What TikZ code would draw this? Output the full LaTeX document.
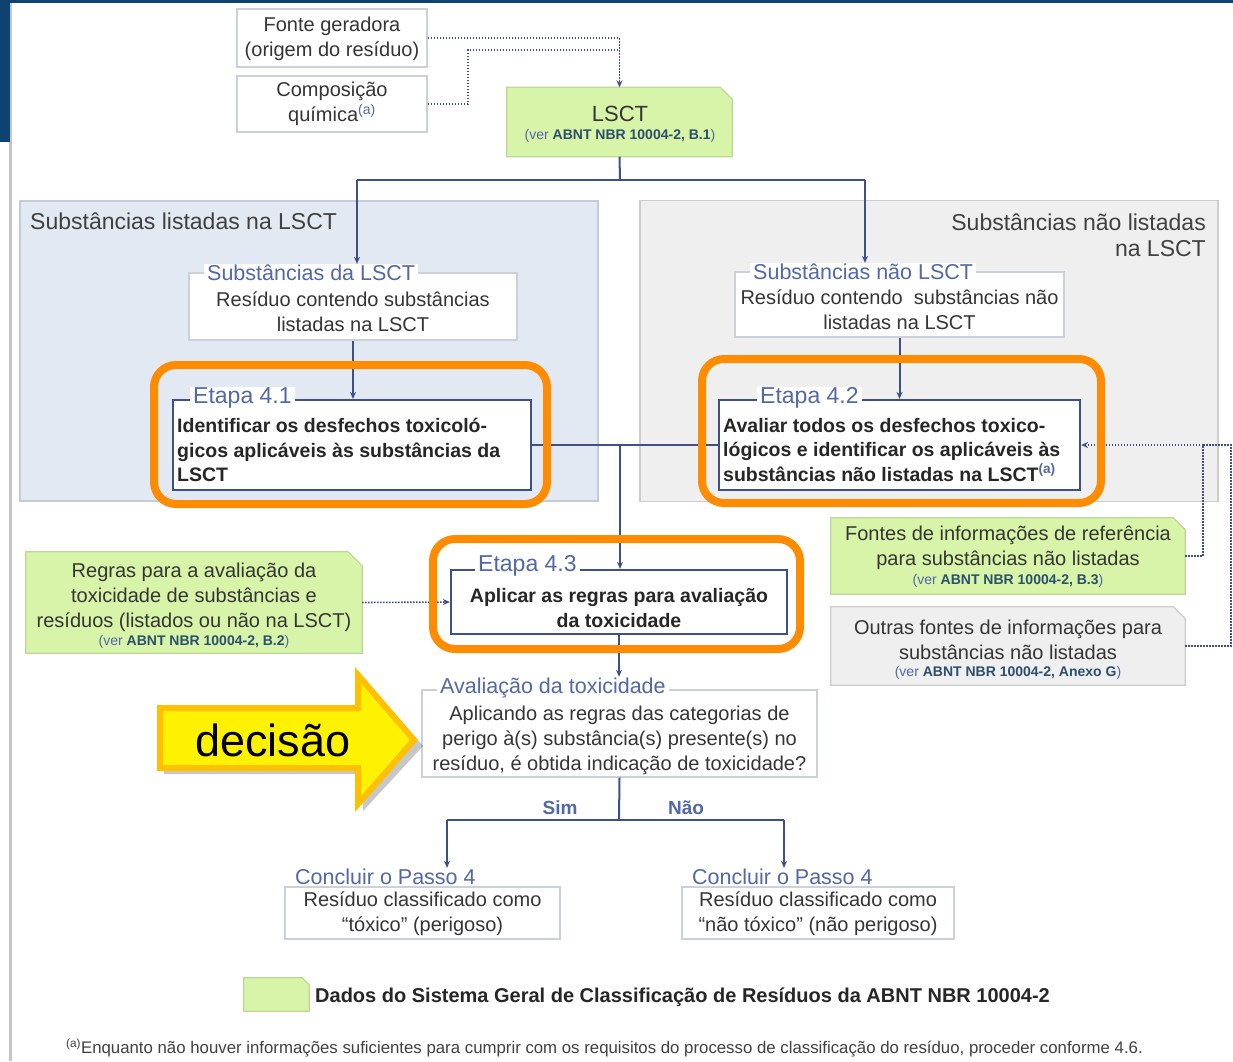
\documentclass[tikz,border=0pt]{standalone}
\usepackage{fontspec}
\setmainfont{Liberation Sans}
\usetikzlibrary{arrows.meta,calc}

\definecolor{navyline}{HTML}{3E4F8C}
\definecolor{ttlblue}{HTML}{5268A8}
\definecolor{boxedge}{HTML}{CBD0DA}
\definecolor{greenfill}{HTML}{D7F4A9}
\definecolor{greenedge}{HTML}{BCD996}
\definecolor{panelblue}{HTML}{E3E9F3}
\definecolor{panelblueedge}{HTML}{C3CBD8}
\definecolor{panelgrey}{HTML}{EFEFEF}
\definecolor{panelgreyedge}{HTML}{CDCDCD}
\definecolor{frameorange}{HTML}{FF8C00}
\definecolor{txtgrey}{HTML}{353535}
\definecolor{arrowgold}{HTML}{FFC000}
\definecolor{slideblue}{HTML}{0E4270}
\definecolor{refteal}{HTML}{2C4F6E}

\newcommand{\fsz}[2]{\fontsize{#1}{#2}\selectfont}
\newcommand{\refnote}[1]{{\color{ttlblue}(ver }\textbf{\color{refteal}#1}{\color{ttlblue})}}
\newcommand{\supa}{\textsuperscript{\color{ttlblue}(a)}}
% note shape with the upper right corner cut off
\newcommand{\chamfer}[3]{%
  \draw[#2] (#1.south west) -- (#1.north west) -- ([xshift=-#3]#1.north east)
    -- ([yshift=-#3]#1.north east) -- (#1.south east) -- cycle;}

\begin{document}
\begin{tikzpicture}[x=1pt,y=-1pt,
  box/.style={draw=boxedge, fill=white, line width=1.2pt, inner sep=0pt},
  etapabox/.style={draw=navyline, fill=white, line width=2.2pt, inner sep=0pt},
  ghost/.style={inner sep=0pt},
  frame/.style={draw=frameorange, line width=8pt, rounded corners=22pt, inner sep=0pt},
  txt/.style={text=txtgrey, align=center, inner sep=0pt, font=\fsz{20}{25}},
  bodybold/.style={txt, text=black!85, font=\bfseries\fsz{19.5}{24.5}},
  ttl/.style={text=ttlblue, fill=white, inner xsep=3pt, inner ysep=1pt, anchor=west, font=\fsz{21.5}{24}},
  reftxt/.style={align=center, inner sep=0pt, font=\fsz{14}{16}},
  line/.style={draw=navyline, line width=2pt},
  flow/.style={line, -{Stealth[length=7pt,width=6pt]}},
  dots/.style={draw=navyline, line width=1.6pt, dash pattern=on 1.5pt off 1.5pt},
  dotflow/.style={dots, -{Stealth[length=7pt,width=6pt]}},
]
\useasboundingbox (0,0) rectangle (1233,1061);
\fill[white] (0,0) rectangle (1233,1061);

% slide frame
\fill[gray!45] (9,0) rectangle (12,1061);
\fill[slideblue] (0,0) rectangle (10,142);
\fill[slideblue] (0,0) rectangle (1233,3);

% background panels
\node[draw=panelblueedge, fill=panelblue, line width=1.5pt, minimum width=578pt, minimum height=300pt, inner sep=0pt] (panelL) at (309,351) {};
\node[draw=panelgreyedge, fill=panelgrey, line width=1.5pt, minimum width=578pt, minimum height=301pt, inner sep=0pt] (panelR) at (929,351) {};
\node[anchor=west, text=black!75, inner sep=0pt, font=\fsz{23}{26}] (panelLT) at (30,221) {Substâncias listadas na LSCT};
\node[anchor=east, align=right, text=black!75, inner sep=0pt, font=\fsz{23}{26}] (panelRT) at (1206,235) {Substâncias não listadas\\na LSCT};

% input boxes
\node[box, minimum width=190pt, minimum height=58pt] (fonte) at (332,38) {};
\node[box, minimum width=190pt, minimum height=56pt] (comp) at (332,104) {};

% note boxes
\node[ghost, minimum width=225pt, minimum height=69pt] (lsct) at (619.5,122) {};
\chamfer{lsct}{fill=greenfill, draw=greenedge, line width=1.2pt}{12pt}
\node[ghost, minimum width=336pt, minimum height=101pt] (regras) at (194,602.5) {};
\chamfer{regras}{fill=greenfill, draw=greenedge, line width=1.2pt}{14pt}
\node[ghost, minimum width=354pt, minimum height=76pt] (fontes) at (1008,556) {};
\chamfer{fontes}{fill=greenfill, draw=greenedge, line width=1.2pt}{12pt}
\node[ghost, minimum width=354pt, minimum height=78pt] (outras) at (1008,646) {};
\chamfer{outras}{fill=panelgrey, draw=panelgreyedge, line width=1.2pt}{12pt}
\node[ghost, minimum width=65pt, minimum height=33pt] (legsq) at (276.5,994.5) {};
\chamfer{legsq}{fill=greenfill, draw=greenedge, line width=1.2pt}{7pt}

% process boxes
\node[box, minimum width=328pt, minimum height=67pt] (subL) at (353,306.5) {};
\node[box, minimum width=329pt, minimum height=65pt] (subR) at (899.5,304.5) {};
\node[etapabox, minimum width=358pt, minimum height=90pt] (e41) at (352,445) {};
\node[etapabox, minimum width=361pt, minimum height=90pt] (e42) at (899.5,445) {};
\node[etapabox, minimum width=336pt, minimum height=64pt] (e43) at (619,602) {};
\node[box, minimum width=395pt, minimum height=87pt] (aval) at (619.5,733.5) {};
\node[box, minimum width=275pt, minimum height=52pt] (concL) at (422.5,913) {};
\node[box, minimum width=272pt, minimum height=52pt] (concR) at (818,913) {};

% box titles
\node[ttl] (subLt) at (204,273) {Substâncias da LSCT};
\node[ttl] (subRt) at (750,272) {Substâncias não LSCT};
\node[ttl, font=\fsz{23}{25}] (e41t) at (190,398) {Etapa 4.1};
\node[ttl, font=\fsz{23}{25}] (e42t) at (757,398) {Etapa 4.2};
\node[ttl, font=\fsz{23}{25}] (e43t) at (475,566) {Etapa 4.3};
\node[ttl] (avalt) at (437,688) {Avaliação da toxicidade};
\node[ttl] (concLt) at (292,877) {Concluir o Passo 4};
\node[ttl] (concRt) at (689,877) {Concluir o Passo 4};

% connectors
\draw[dots] (fonte.east) -- (lsct.north |- fonte.east);
\coordinate (cj) at (468,50);
\draw[dots] (comp.east) -| (cj) -- (cj -| lsct.north);
\draw[dotflow] (lsct.north |- fonte.east) -- (lsct.north);

\coordinate (sp) at (620,180);
\coordinate (aL) at (357,180);
\coordinate (aR) at (865,180);
\draw[line] (lsct.south) -- (sp);
\draw[line] (aL) -- (aR);
\draw[flow] (aL) -- (aL |- subLt.north);
\draw[flow] (aR) -- (aR |- subRt.north);
\draw[flow] (subL.south) -- (subL.south |- e41.north);
\draw[flow] (subR.south) -- (subR.south |- e42.north);

\coordinate (jn) at (620,445);
\draw[line] (e41.east) -- (jn);
\draw[line] (e42.west) -- (jn);
\draw[flow] (jn) -- (jn |- e43.north);

\draw[dotflow] (regras.east) -- (e43.west);
\coordinate (r1) at (1203,445);
\coordinate (r2) at (1231,445);
\draw[dots] (fontes.east) -| (r1);
\draw[dots] (outras.east) -| (r2) -- (r1);
\draw[dotflow] (r1) -- (e42.east);

\draw[flow] (e43.south) -- (e43.south |- avalt.north);
\coordinate (dsp) at (619,820);
\coordinate (bl) at (447,820);
\coordinate (br) at (784,820);
\draw[line] (aval.south) -- (dsp);
\draw[line] (bl) -- (br);
\draw[flow] (bl) -- (bl |- concLt.north);
\draw[flow] (br) -- (br |- concRt.north);
\node[text=ttlblue, inner sep=0pt, font=\bfseries\fsz{19}{21}] (sim) at (560,808) {Sim};
\node[text=ttlblue, inner sep=0pt, font=\bfseries\fsz{19}{21}] (nao) at (686,808) {Não};

% texts
\node[txt] (fonteT) at (332,39) {Fonte geradora\\(origem do resíduo)};
\node[txt] (compT) at (332,104) {Composição\\química\supa};
\node[txt, font=\fsz{22}{24}] (lsctA) at (620,114) {LSCT};
\node[reftxt] (lsctB) at (620,136) {\refnote{ABNT NBR 10004-2, B.1}};
\node[txt] (subLT) at (353,312) {Resíduo contendo substâncias\\listadas na LSCT};
\node[txt] (subRT) at (899.5,310) {Resíduo contendo \ substâncias não\\listadas na LSCT};
\node[bodybold, align=left, anchor=west] (e41T) at (177,450) {Identificar os desfechos toxicoló-\\gicos aplicáveis às substâncias da\\LSCT};
\node[bodybold, align=left, anchor=west] (e42T) at (723,450) {Avaliar todos os desfechos toxico-\\lógicos e identificar os aplicáveis às\\substâncias não listadas na LSCT\supa};
\node[bodybold] (e43T) at (619,608) {Aplicar as regras para avaliação\\da toxicidade};
\node[txt] (regrasT) at (194,597) {Regras para a avaliação da\\toxicidade de substâncias e\\resíduos (listados ou não na LSCT)};
\node[reftxt] (regrasR) at (194,642) {\refnote{ABNT NBR 10004-2, B.2}};
\node[txt] (fontesT) at (1008,548) {Fontes de informações de referência\\para substâncias não listadas};
\node[reftxt] (fontesR) at (1008,581) {\refnote{ABNT NBR 10004-2, B.3}};
\node[txt] (outrasT) at (1008,640) {Outras fontes de informações para\\substâncias não listadas};
\node[reftxt] (outrasR) at (1008,673) {\refnote{ABNT NBR 10004-2, Anexo G}};
\node[txt] (avalT) at (619.5,740) {Aplicando as regras das categorias de\\perigo à(s) substância(s) presente(s) no\\resíduo, é obtida indicação de toxicidade?};
\node[txt] (concLT) at (422.5,914) {Resíduo classificado como\\“tóxico” (perigoso)};
\node[txt] (concRT) at (818,914) {Resíduo classificado como\\“não tóxico” (não perigoso)};
\node[anchor=west, inner sep=0pt, text=black!85, font=\bfseries\fsz{20}{22}] (legT) at (315,997) {Dados do Sistema Geral de Classificação de Resíduos da ABNT NBR 10004-2};
\node[anchor=west, inner sep=0pt, text=black!75, font=\fsz{16.8}{18}] (foot) at (66,1048) {\textsuperscript{(a)}Enquanto não houver informações suficientes para cumprir com os requisitos do processo de classificação do resíduo, proceder conforme 4.6.};

% orange highlight frames
\node[frame, minimum width=393pt, minimum height=139pt] (fr41) at (350.5,434.5) {};
\node[frame, minimum width=399pt, minimum height=144pt] (fr42) at (901.5,431) {};
\node[frame, minimum width=367pt, minimum height=110pt] (fr43) at (616.5,594) {};

% decision call-out arrow
\fill[black, opacity=0.22] (164,713) -- (363,713) -- (363,679) -- (423,746) -- (363,811) -- (363,774) -- (164,774) -- cycle;
\draw[fill=yellow, draw=arrowgold, line width=6pt, line join=miter]
  (160,708) -- (358,708) -- (358,675) -- (414,740) -- (358,804) -- (358,768) -- (160,768) -- cycle;
\node[inner sep=0pt, font=\fsz{45}{50}] (decT) at (273,740) {decisão};
\end{tikzpicture}
\end{document}
